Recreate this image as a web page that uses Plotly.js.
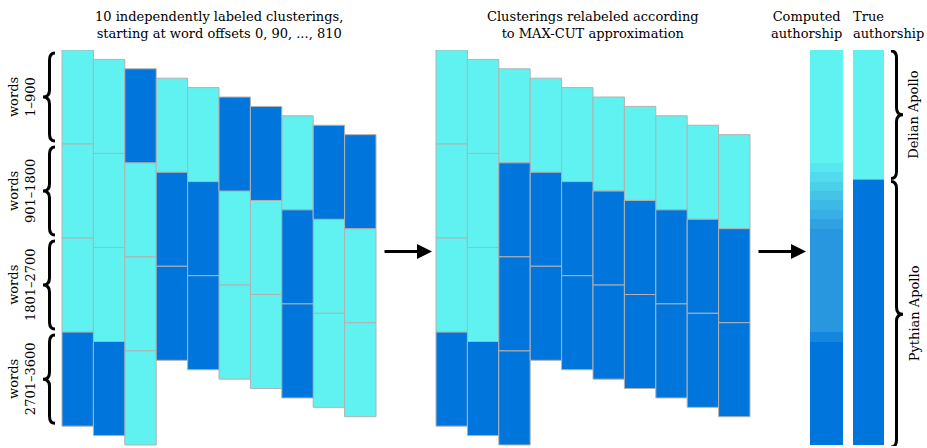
<!DOCTYPE html>
<html>
<head>
<meta charset="utf-8">
<script src="https://cdn.plot.ly/plotly-3.0.1.min.js"></script>
<style>html,body{margin:0;padding:0;background:#fff;}#chart{width:927px;height:448px;}</style>
</head>
<body>
<div id="chart"></div>
<script>
// ---------------- data ----------------
const offsets = [0, 90, 180, 270, 360, 450, 540, 630, 720, 810];   // word offset of each clustering
const segmentWords = 900;                                            // words per segment
// 0 = cluster A (light), 1 = cluster B (dark); one entry per 900-word segment
const leftLabels = [
  [0, 0, 0, 1], [0, 0, 0, 1], [1, 0, 0, 0], [0, 1, 1], [0, 1, 1],
  [1, 0, 0], [1, 0, 0], [0, 1, 1], [1, 0, 0], [1, 0, 0]
];
const rightLabels = [
  [0, 0, 0, 1], [0, 0, 0, 1], [0, 1, 1, 1], [0, 1, 1], [0, 1, 1],
  [0, 1, 1], [0, 1, 1], [0, 1, 1], [0, 1, 1], [0, 1, 1]
];
const sliceWords = 90;
// computed authorship score per 90-word slice (0 = Delian, 1 = Pythian)
const computedScore = [
  0, 0, 0, 0, 0, 0, 0, 0, 0, 0, 0, 0,
  0.1, 0.2, 0.3, 0.4, 0.5, 0.6, 0.7,
  0.8, 0.8, 0.8, 0.8, 0.8, 0.8, 0.8, 0.8, 0.8, 0.8, 0.8,
  0.9,
  1, 1, 1, 1, 1, 1, 1, 1, 1, 1, 1
];
const trueBoundary = 1240;   // last word of the Delian Apollo
const totalWords = 3780;
const authors = ['Delian Apollo', 'Pythian Apollo'];
const sideLabels = ['words<br>1–900', 'words<br>901–1800', 'words<br>1801–2700', 'words<br>2701–3600'];
const titleLeft = '10 independently labeled clusterings,<br>starting at word offsets 0, 90, ..., 810';
const titleMid = 'Clusterings relabeled according<br>to MAX-CUT approximation';
const titleComputed = 'Computed<br>authorship';
const titleTrue = 'True<br>authorship';

// ---------------- styling / layout constants ----------------
const LIGHT = '#5ff2f0';
const DARK = '#0075dc';
const EDGE = 'rgb(178,178,178)';
const W = 927, H = 448, TOP = 50, BOT = 2;
const YMAX = 3790;
const PXW = (H - TOP - BOT) / YMAX;        // pixels per word
const wd = px => (px - TOP) / PXW;         // pixel row -> word coordinate
const pp = px => (H - BOT - px) / (H - TOP - BOT);  // pixel row -> paper coordinate
const FONT = {family: 'DejaVu Serif, serif', size: 13, color: '#000'};

const colW = 31.4;
const leftStart = 62, rightStart = 436;

function groupTraces(labels, start) {
  const out = [];
  [0, 1].forEach(c => {
    const xs = [], ys = [], bs = [];
    labels.forEach((col, i) => {
      col.forEach((lab, j) => {
        if (lab === c) {
          xs.push(start + colW * (i + 0.5));
          ys.push(segmentWords);
          bs.push(offsets[i] + j * segmentWords);
        }
      });
    });
    out.push({
      type: 'bar', x: xs, y: ys, base: bs, width: colW,
      marker: {color: c ? DARK : LIGHT, line: {color: EDGE, width: 1}},
      hoverinfo: 'skip'
    });
  });
  return out;
}

const traces = [].concat(groupTraces(leftLabels, leftStart), groupTraces(rightLabels, rightStart));

// computed authorship column (heatmap, one cell per 90-word slice)
traces.push({
  type: 'heatmap',
  x: [810, 842.8],
  y: computedScore.map((_, k) => k * sliceWords).concat([computedScore.length * sliceWords]),
  z: computedScore.map(v => [v]),
  zmin: 0, zmax: 1, zsmooth: false,
  colorscale: [[0, LIGHT], [0.8, '#2997e0'], [1, DARK]],
  showscale: false, hoverinfo: 'skip'
});
// true authorship column
traces.push({
  type: 'bar',
  x: [868.5, 868.5],
  y: [trueBoundary, totalWords - trueBoundary],
  base: [0, trueBoundary],
  width: 31,
  marker: {color: [LIGHT, DARK], line: {width: 0}},
  hoverinfo: 'skip'
});

// ---------------- braces ----------------
function brace(xh, xv, xt, y0, y1) {
  const r = 7, ym = (y0 + y1) / 2;
  return `M${xh},${wd(y0)} Q${xv},${wd(y0)} ${xv},${wd(y0 + r)} L${xv},${wd(ym - r)} ` +
    `Q${xv},${wd(ym)} ${xt},${wd(ym)} Q${xv},${wd(ym)} ${xv},${wd(ym + r)} ` +
    `L${xv},${wd(y1 - r)} Q${xv},${wd(y1)} ${xh},${wd(y1)}`;
}
const toPx = w => TOP + w * PXW;
const shapes = [];
sideLabels.forEach((_, j) => {
  const y0 = toPx(j * segmentWords) + 3, y1 = toPx((j + 1) * segmentWords) - 3;
  shapes.push({type: 'path', xref: 'x', yref: 'y', path: brace(55, 49.5, 43, y0, y1), line: {color: '#000', width: 3}});
});
shapes.push({type: 'path', xref: 'x', yref: 'y', path: brace(891, 896.5, 903, toPx(0) + 1, toPx(trueBoundary) - 1), line: {color: '#000', width: 3}});
shapes.push({type: 'path', xref: 'x', yref: 'y', path: brace(891, 896.5, 903, toPx(trueBoundary) + 2, 447), line: {color: '#000', width: 3}});

// ---------------- annotations ----------------
const ann = [];
function txt(text, x, ypx, opts) {
  ann.push(Object.assign({text, x, y: pp(ypx), xref: 'x', yref: 'paper', showarrow: false, font: FONT,
    xanchor: 'center', yanchor: 'middle', align: 'center'}, opts || {}));
}
txt(titleLeft, 219, 25);
txt(titleMid, 593, 25);
txt(titleComputed, 806, 25);
txt(titleTrue, 851, 25, {xanchor: 'left', align: 'left'});
sideLabels.forEach((lab, j) => {
  const ym = toPx((j + 0.5) * segmentWords);
  txt(lab, 22, ym, {textangle: -90});
});
txt(authors[0], 914, (toPx(0) + toPx(trueBoundary)) / 2, {textangle: -90});
txt(authors[1], 914, (toPx(trueBoundary) + 447) / 2, {textangle: -90});

// arrows
[[383, 432], [757, 806]].forEach(([a, b]) => {
  ann.push({x: b, y: pp(251.5), ax: a, ay: pp(251.5), xref: 'x', yref: 'paper', axref: 'x', ayref: 'paper',
    showarrow: true, text: '', arrowhead: 2, arrowsize: 1, arrowwidth: 3, arrowcolor: '#000'});
});

const layout = {
  width: W, height: H,
  margin: {l: 0, r: 0, t: TOP, b: BOT, pad: 0},
  paper_bgcolor: '#fff', plot_bgcolor: '#fff',
  showlegend: false, barmode: 'overlay',
  xaxis: {range: [0, W], visible: false, fixedrange: true},
  yaxis: {range: [YMAX, 0], visible: false, fixedrange: true},
  shapes, annotations: ann
};
Plotly.newPlot('chart', traces, layout, {displayModeBar: false, staticPlot: true});
</script>
</body>
</html>
